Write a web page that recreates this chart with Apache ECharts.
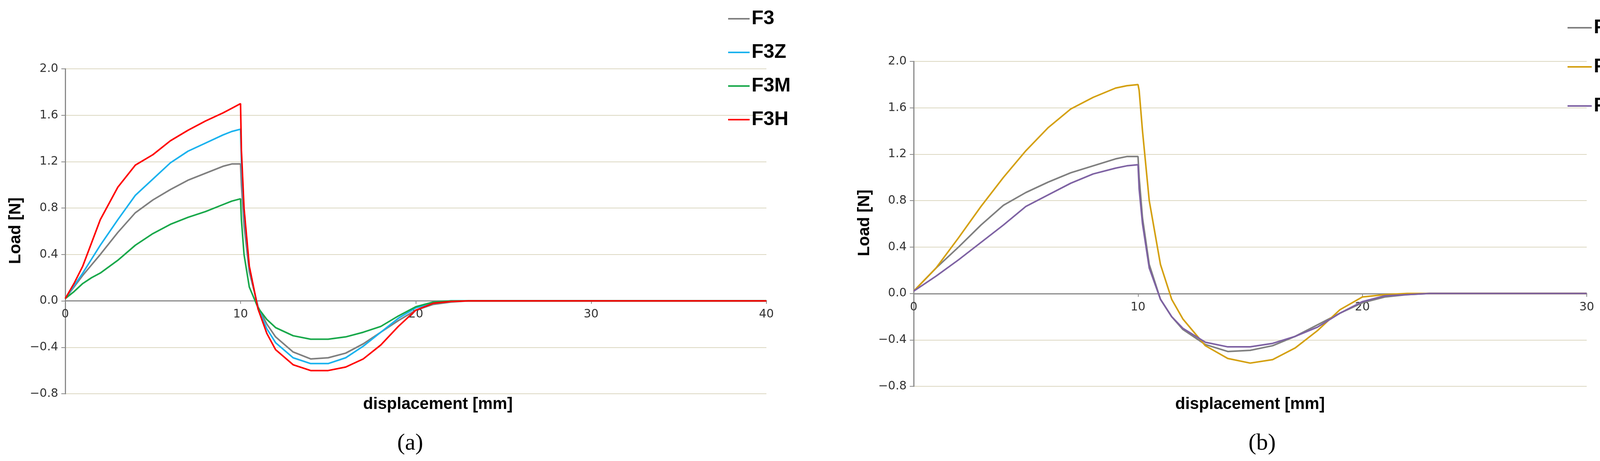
<!DOCTYPE html>
<html><head><meta charset="utf-8">
<script src="https://cdn.jsdelivr.net/npm/echarts@6/dist/echarts.min.js"></script>
<style>html,body{margin:0;padding:0;background:#fff}#c{width:4280px;height:1179px}</style>
</head><body><div id="c"></div>
<script>
const xA = [0,0.5,1,1.5,2,3,4,5,6,7,8,9,9.5,10,10.05,10.2,10.5,11,11.5,12,13,14,15,16,17,18,19,20,21,22,23,25,30,40];
const f3  = [0.02,0.12,0.22,0.31,0.40,0.59,0.76,0.87,0.96,1.04,1.10,1.16,1.18,1.18,1.0,0.65,0.25,-0.05,-0.2,-0.31,-0.44,-0.5,-0.49,-0.45,-0.37,-0.27,-0.17,-0.08,-0.03,-0.01,0,0,0,0];
const f3z = [0.02,0.13,0.24,0.36,0.48,0.70,0.91,1.05,1.19,1.29,1.36,1.43,1.46,1.48,1.2,0.75,0.28,-0.06,-0.24,-0.36,-0.49,-0.54,-0.54,-0.49,-0.39,-0.27,-0.15,-0.06,-0.02,0,0,0,0,0];
const f3m = [0.02,0.08,0.15,0.20,0.24,0.35,0.48,0.58,0.66,0.72,0.77,0.83,0.86,0.88,0.7,0.4,0.12,-0.06,-0.16,-0.23,-0.3,-0.33,-0.33,-0.31,-0.27,-0.22,-0.13,-0.05,-0.01,0,0,0,0,0];
const f3h = [0.02,0.15,0.30,0.50,0.70,0.98,1.17,1.26,1.38,1.47,1.55,1.62,1.66,1.70,1.3,0.8,0.3,-0.07,-0.28,-0.42,-0.55,-0.6,-0.6,-0.57,-0.5,-0.38,-0.22,-0.08,-0.02,-0.005,0,0,0,0];
const xB = [0,1,2,3,4,5,6,7,8,9,9.5,10,10.05,10.2,10.5,11,11.5,12,13,14,15,16,17,18,19,20,21,22,23,25,30];
const f3b  = [0.02,0.22,0.40,0.59,0.76,0.87,0.96,1.04,1.10,1.16,1.18,1.18,1.0,0.65,0.25,-0.05,-0.2,-0.31,-0.44,-0.5,-0.49,-0.45,-0.37,-0.27,-0.17,-0.08,-0.03,-0.01,0,0,0];
const f3s  = [0.02,0.22,0.48,0.75,1.0,1.23,1.43,1.59,1.69,1.77,1.79,1.8,1.75,1.4,0.8,0.25,-0.05,-0.22,-0.45,-0.56,-0.6,-0.57,-0.47,-0.32,-0.14,-0.03,-0.01,0,0,0,0];
const f3s15= [0.02,0.15,0.29,0.44,0.59,0.75,0.85,0.95,1.03,1.08,1.1,1.11,0.9,0.6,0.22,-0.05,-0.2,-0.3,-0.42,-0.46,-0.46,-0.43,-0.37,-0.29,-0.17,-0.07,-0.02,-0.01,0,0,0];

const zip=(x,y)=>x.map((v,i)=>[v,y[i]]);
const tickFont={fontFamily:'DejaVu Sans',fontSize:30,color:'#333'};
const boldNarrow='"Liberation Sans Narrow","Liberation Sans",sans-serif';
function xAxis(gi,max,off){return {gridIndex:gi,type:'value',min:0,max:max,interval:10,position:'bottom',offset:off,
  axisLine:{onZero:false,lineStyle:{color:'#8a8a8a',width:3}},axisTick:{show:true,length:8,lineStyle:{color:'#8a8a8a',width:2}},
  axisLabel:Object.assign({margin:20},tickFont),splitLine:{show:false}};}
function yAxis(gi){return {gridIndex:gi,type:'value',min:-0.8,max:2.0,interval:0.4,
  axisLine:{show:true,onZero:false,lineStyle:{color:'#8a8a8a',width:3}},axisTick:{show:true,length:10,lineStyle:{color:'#8a8a8a',width:2}},
  axisLabel:Object.assign({margin:18,formatter:v=>v.toFixed(1).replace('-','\u2212')},tickFont),
  splitLine:{show:true,lineStyle:{color:'#dcd8c2',width:2}}};}
function ser(name,x,y,color,gi){return {name:name,type:'line',xAxisIndex:gi,yAxisIndex:gi,data:zip(x,y),showSymbol:false,
  smooth:false,lineStyle:{color:color,width:4},itemStyle:{color:color}};}
const legendText={fontFamily:boldNarrow,fontWeight:'bold',fontSize:50,color:'#000',lineHeight:60};
const chart=echarts.init(document.getElementById('c'));
chart.setOption({
  animation:false,
  grid:[{left:167,right:2318,top:176,bottom:172},{left:2339,right:218,top:157,bottom:191}],
  xAxis:[xAxis(0,40,-238),xAxis(1,30,-237)],
  yAxis:[yAxis(0),yAxis(1)],
  legend:[
    {data:['F3','F3Z','F3M','F3H'],orient:'vertical',left:1859,top:13,itemWidth:55,itemHeight:4,itemGap:26,icon:'rect',align:'left',textStyle:legendText},
    {data:['F3 ','F3S','F3S 1.5'],orient:'vertical',right:20,top:36,itemWidth:62,itemHeight:4,itemGap:40,icon:'rect',align:'left',textStyle:legendText}
  ],
  series:[
    ser('F3',xA,f3,'#7f7f7f',0),ser('F3Z',xA,f3z,'#1ab2ee',0),ser('F3M',xA,f3m,'#18a84a',0),ser('F3H',xA,f3h,'#ff0000',0),
    ser('F3 ',xB,f3b,'#7f7f7f',1),ser('F3S',xB,f3s,'#d4a010',1),ser('F3S 1.5',xB,f3s15,'#7e62a3',1)
  ],
  graphic:[
    {type:'text',x:1121,y:1034,style:{text:'displacement [mm]',font:'bold 42px '+boldNarrow,fill:'#000',textAlign:'center',textVerticalAlign:'middle'}},
    {type:'text',x:3200,y:1034,style:{text:'displacement [mm]',font:'bold 42px '+boldNarrow,fill:'#000',textAlign:'center',textVerticalAlign:'middle'}},
    {type:'text',x:40,y:590,rotation:Math.PI/2,style:{text:'Load [N]',font:'bold 42px '+boldNarrow,fill:'#000',textAlign:'center',textVerticalAlign:'middle'}},
    {type:'text',x:2213,y:570,rotation:Math.PI/2,style:{text:'Load [N]',font:'bold 42px '+boldNarrow,fill:'#000',textAlign:'center',textVerticalAlign:'middle'}},
    {type:'text',x:1050,y:1134,style:{text:'(a)',font:'60px "Liberation Serif",serif',fill:'#000',textAlign:'center',textVerticalAlign:'middle'}},
    {type:'text',x:3231,y:1134,style:{text:'(b)',font:'60px "Liberation Serif",serif',fill:'#000',textAlign:'center',textVerticalAlign:'middle'}}
  ]
});
</script></body></html>
